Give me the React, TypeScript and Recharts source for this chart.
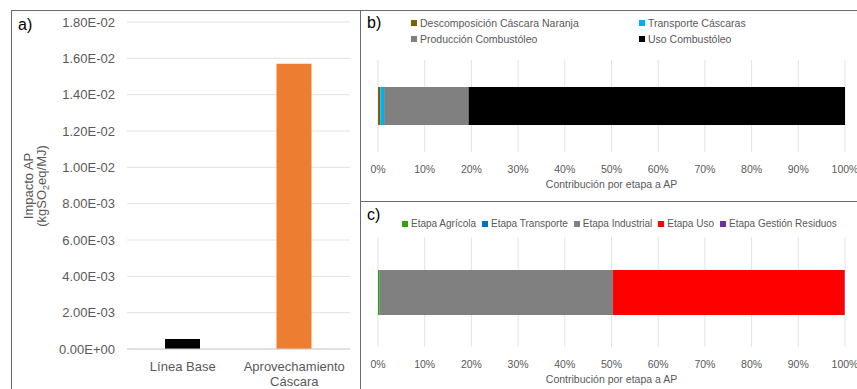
import React from 'react';
import { BarChart, Bar, XAxis, YAxis, CartesianGrid, Cell, Legend, Label } from 'recharts';

// Panel a: total AP impact per scenario
const scenarios = ['Línea Base', 'Aprovechamiento Cáscara'];
const impactValues = [0.00055, 0.0157];
const scenarioColors = ['#000000', '#ED7D31'];
const impactTicks = [0, 0.002, 0.004, 0.006, 0.008, 0.01, 0.012, 0.014, 0.016, 0.018];

// Panel b: contribution per process (%)
const processNames = ['Descomposición Cáscara Naranja', 'Transporte Cáscaras', 'Producción Combustóleo', 'Uso Combustóleo'];
const processShares = [0.5, 0.8, 18.1, 80.6];
const processColors = ['#7F6000', '#00B0F0', '#808080', '#000000'];

// Panel c: contribution per stage (%)
const stageNames = ['Etapa Agrícola', 'Etapa Transporte', 'Etapa Industrial', 'Etapa Uso', 'Etapa Gestión Residuos'];
const stageShares = [0.35, 0.05, 49.9, 49.6, 0.1];
const stageColors = ['#33A10E', '#0070C0', '#808080', '#FF0000', '#7030A0'];

const percentTicks = [0, 10, 20, 30, 40, 50, 60, 70, 80, 90, 100];

const FONT = '"Liberation Sans", Arial, sans-serif';
const TEXT = '#595959';
const GRID = '#e3e3e3';
const BORDER = '#6b6b6b';

const impactData = scenarios.map((name, i) => ({ name, value: impactValues[i] }));

const processRow: Record<string, any> = { name: 'AP' };
processNames.forEach((n, i) => (processRow['p' + i] = processShares[i]));

const stageRow: Record<string, any> = { name: 'AP' };
stageNames.forEach((n, i) => (stageRow['s' + i] = stageShares[i]));

function sci(v: number) {
  const [m, e] = v.toExponential(2).split('e');
  const n = parseInt(e, 10);
  const sign = n < 0 ? '-' : '+';
  return `${m}E${sign}${String(Math.abs(n)).padStart(2, '0')}`;
}

function CategoryTick({ x, y, payload }: any) {
  const label: string = payload.value;
  const lines = label.length > 12 ? [label.slice(0, label.lastIndexOf(' ')), label.slice(label.lastIndexOf(' ') + 1)] : [label];
  return (
    <text x={x} y={y} textAnchor="middle" fill={TEXT} fontSize={13} fontFamily={FONT}>
      {lines.map((l, i) => (
        <tspan key={i} x={x} dy={i === 0 ? 21.5 : 15}>
          {l}
        </tspan>
      ))}
    </text>
  );
}

function PercentTick({ x, y, payload }: any) {
  return (
    <text x={x} y={y + 20.8} textAnchor="middle" fill={TEXT} fontSize={10.5} fontFamily={FONT}>
      {payload.value}%
    </text>
  );
}

function axisTitle(text: string) {
  return ({ viewBox }: any) => (
    <text x={viewBox.x + viewBox.width / 2} y={viewBox.y + 35.8} textAnchor="middle" fill={TEXT} fontSize={10.5} fontFamily={FONT}>
      {text}
    </text>
  );
}

function YTitle() {
  return (
    <g fill={TEXT} fontSize={13} fontFamily={FONT}>
      <text transform="translate(33,186) rotate(-90)" textAnchor="middle">
        Impacto AP
      </text>
      <text transform="translate(46,186) rotate(-90)" textAnchor="middle">
        (kgSO<tspan fontSize={9} dy={3}>2</tspan>
        <tspan dy={-3}>eq/MJ)</tspan>
      </text>
    </g>
  );
}

function Swatch({ color }: { color: string }) {
  return <span style={{ display: 'inline-block', width: 6, height: 6, background: color, marginRight: 3 }} />;
}

// keep legend entries in series order
const ordered = (payload: any[] | undefined, names: string[]) =>
  [...(payload || [])].sort((a, b) => names.indexOf(a.value) - names.indexOf(b.value));

function ProcessLegend({ payload }: any) {
  return (
    <div style={{ display: 'grid', gridTemplateColumns: '228px auto', rowGap: 4, fontSize: 10.5, fontFamily: FONT, color: TEXT, lineHeight: '12px' }}>
      {ordered(payload, processNames).map((p: any) => (
        <div key={p.value} style={{ display: 'flex', alignItems: 'center', whiteSpace: 'nowrap' }}>
          <Swatch color={p.color} />
          {p.value}
        </div>
      ))}
    </div>
  );
}

function StageLegend({ payload }: any) {
  return (
    <div style={{ display: 'flex', gap: 6, fontSize: 10, fontFamily: FONT, color: TEXT, lineHeight: '12px' }}>
      {ordered(payload, stageNames).map((p: any) => (
        <div key={p.value} style={{ display: 'flex', alignItems: 'center', whiteSpace: 'nowrap' }}>
          <Swatch color={p.color} />
          {p.value}
        </div>
      ))}
    </div>
  );
}

const panelLetter: React.CSSProperties = { position: 'absolute', fontFamily: FONT, fontSize: 16, color: '#000', lineHeight: '18px' };

export default function App() {
  return (
    <div style={{ position: 'fixed', left: 0, top: 0, width: 857, height: 389, background: '#fff', overflow: 'hidden' }}>
      {/* panel frames */}
      <div style={{ position: 'absolute', left: 11, top: 10, width: 846, height: 1, background: BORDER }} />
      <div style={{ position: 'absolute', left: 11, top: 10, width: 1, height: 379, background: BORDER }} />
      <div style={{ position: 'absolute', left: 360, top: 10, width: 1, height: 379, background: BORDER }} />
      <div style={{ position: 'absolute', left: 360, top: 201, width: 497, height: 1, background: BORDER }} />

      {/* a) */}
      <div style={{ position: 'absolute', left: 0, top: 0 }}>
        <BarChart width={360} height={389} data={impactData} margin={{ top: 22, right: 10, bottom: 0, left: 67 }}>
          <CartesianGrid vertical={false} stroke={GRID} />
          <XAxis dataKey="name" height={40} tick={<CategoryTick />} tickLine={false} tickSize={0} tickMargin={0} stroke="#d0d0d0" interval={0} />
          <YAxis
            width={60}
            domain={[0, 0.018]}
            ticks={impactTicks}
            tickFormatter={sci}
            axisLine={false}
            tickLine={false}
            tickSize={0}
            tickMargin={12}
            tick={{ fill: TEXT, fontSize: 13, fontFamily: FONT }}
          >
            <Label content={<YTitle />} />
          </YAxis>
          <Bar dataKey="value" barSize={35} isAnimationActive={false}>
            {impactData.map((d, i) => (
              <Cell key={d.name} fill={scenarioColors[i]} />
            ))}
          </Bar>
        </BarChart>
      </div>
      <div style={{ ...panelLetter, left: 18, top: 16 }}>a)</div>

      {/* b) */}
      <div style={{ position: 'absolute', left: 360, top: 10 }}>
        <BarChart width={497} height={192} data={[processRow]} layout="vertical" margin={{ top: 50, right: 12, bottom: 0, left: 18 }}>
          <CartesianGrid horizontal={false} stroke={GRID} />
          <XAxis type="number" domain={[0, 100]} ticks={percentTicks} height={50} axisLine={false} tickLine={false} tickSize={0} tickMargin={0} tick={<PercentTick />}>
            <Label content={axisTitle('Contribución por etapa a AP')} />
          </XAxis>
          <YAxis type="category" dataKey="name" hide />
          <Legend
            layout="horizontal"
            verticalAlign="middle"
            align="center"
            content={<ProcessLegend />}
            wrapperStyle={{ left: 51, top: 7, width: 420 }}
          />
          {processNames.map((n, i) => (
            <Bar key={n} dataKey={'p' + i} name={n} stackId="a" fill={processColors[i]} barSize={38} isAnimationActive={false} />
          ))}
        </BarChart>
      </div>
      <div style={{ ...panelLetter, left: 367, top: 14 }}>b)</div>

      {/* c) */}
      <div style={{ position: 'absolute', left: 360, top: 202 }}>
        <BarChart width={497} height={187} data={[stageRow]} layout="vertical" margin={{ top: 35, right: 12, bottom: 2, left: 18 }}>
          <CartesianGrid horizontal={false} stroke={GRID} />
          <XAxis type="number" domain={[0, 100]} ticks={percentTicks} height={40} axisLine={false} tickLine={false} tickSize={0} tickMargin={0} tick={<PercentTick />}>
            <Label content={axisTitle('Contribución por etapa a AP')} />
          </XAxis>
          <YAxis type="category" dataKey="name" hide />
          <Legend
            layout="horizontal"
            verticalAlign="middle"
            align="center"
            content={<StageLegend />}
            wrapperStyle={{ left: 42, top: 16, width: 460 }}
          />
          {stageNames.map((n, i) => (
            <Bar key={n} dataKey={'s' + i} name={n} stackId="a" fill={stageColors[i]} barSize={45} isAnimationActive={false} />
          ))}
        </BarChart>
      </div>
      <div style={{ ...panelLetter, left: 367, top: 206 }}>c)</div>
    </div>
  );
}
